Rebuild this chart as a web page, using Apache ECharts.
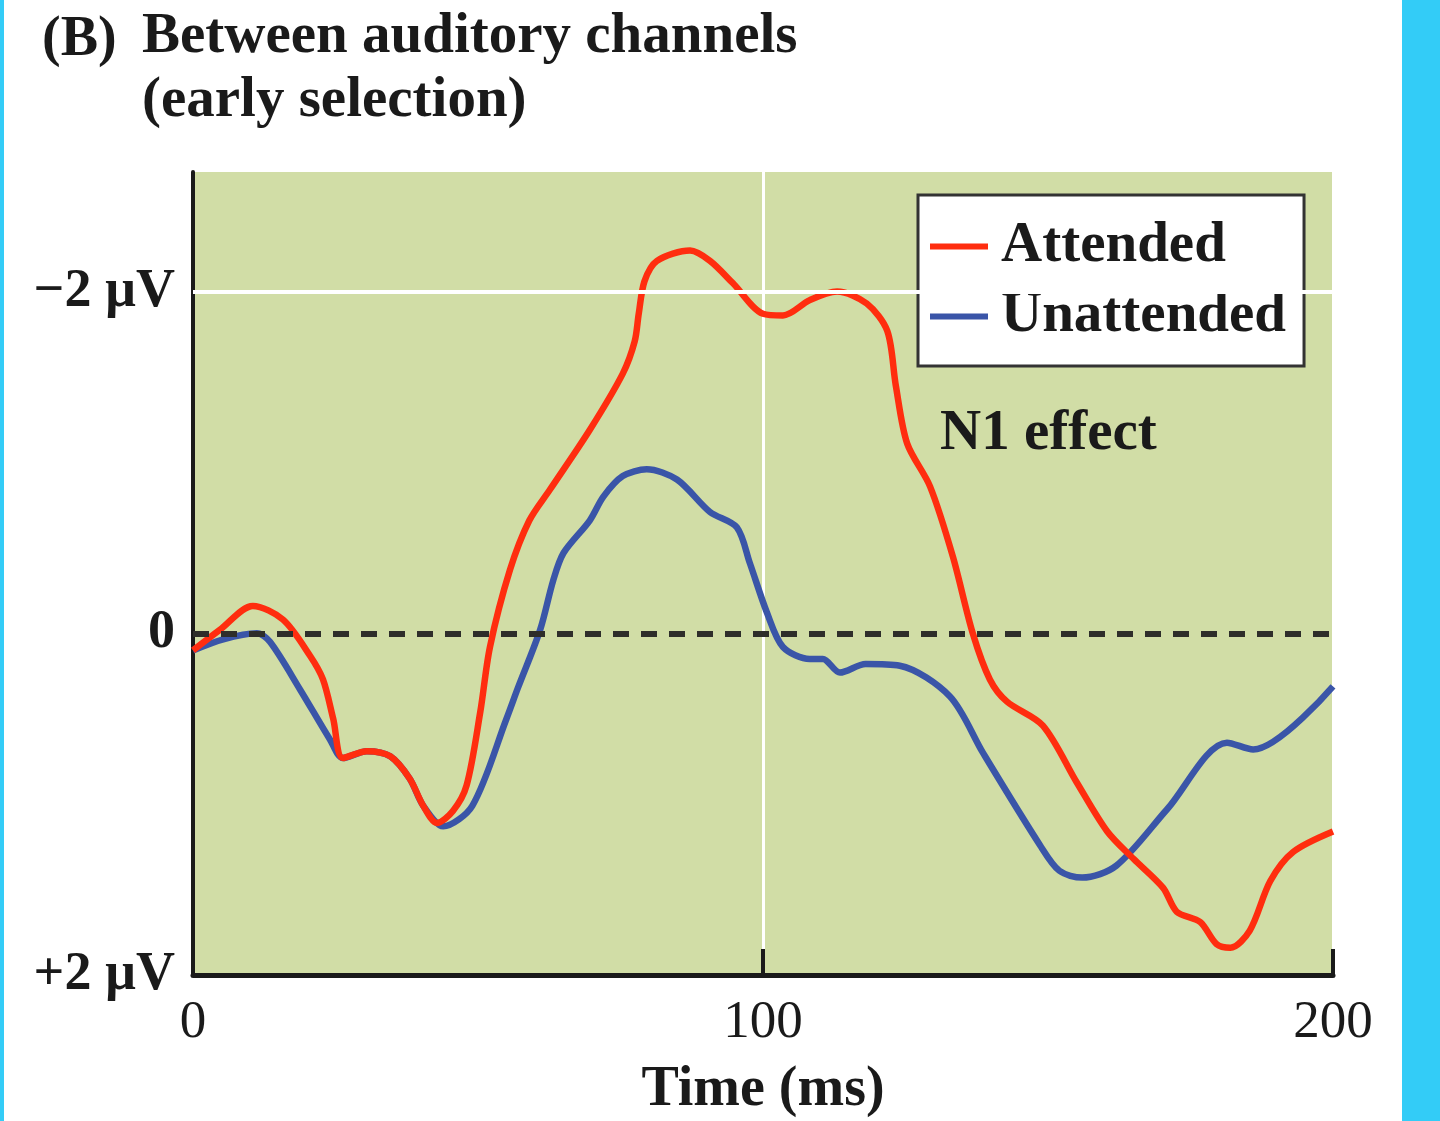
<!DOCTYPE html>
<html>
<head>
<meta charset="utf-8">
<script src="https://cdn.jsdelivr.net/npm/echarts@6/dist/echarts.min.js"></script>
<style>
  html, body { margin: 0; padding: 0; background: #fff; }
  #chart { width: 1440px; height: 1121px; }
</style>
</head>
<body>
<div id="chart"></div>
<script>
// ERP waveforms, time in ms, amplitude in µV (negative up)
var attendedT = [0, 4.7, 10.5, 15.8, 20.5, 22.8, 24.6, 26.3, 30.5, 34.6, 38, 40.4, 42.8, 45.6, 48, 50.4, 52.1, 55.6, 59, 62.6, 69.6, 75.4, 77.5, 78.2, 79.2, 81.4, 87.2, 90.7, 94.7, 100, 103.5, 108.2, 113, 118.2, 121.8, 123.3, 125.3, 129.3, 133.3, 136.8, 139.8, 142.8, 149.1, 155, 160.4, 165, 170.2, 172.6, 176.7, 179.6, 182, 185.4, 189, 193, 200];
var attendedV = [0.1, -0.02, -0.16, -0.08, 0.13, 0.27, 0.5, 0.73, 0.69, 0.72, 0.85, 1.01, 1.11, 1.04, 0.89, 0.46, 0.08, -0.37, -0.66, -0.84, -1.19, -1.52, -1.71, -1.87, -2.06, -2.18, -2.24, -2.18, -2.05, -1.87, -1.86, -1.95, -2.0, -1.93, -1.77, -1.45, -1.11, -0.86, -0.45, 0, 0.27, 0.4, 0.54, 0.87, 1.16, 1.32, 1.49, 1.63, 1.69, 1.82, 1.84, 1.74, 1.45, 1.28, 1.16];

var unattendedT = [0, 5.3, 11.2, 13.5, 18.8, 24, 26.3, 30.5, 34.6, 38, 40.4, 43.9, 49, 55, 57, 60.9, 63.2, 65, 69.6, 72, 75.4, 79.6, 84.9, 90.7, 95.4, 97.7, 100.7, 103.5, 108.2, 110.5, 113.5, 118, 124, 132.8, 138.6, 148.6, 152, 156, 162, 170.9, 181.4, 186, 200];
var unattendedV = [0.1, 0.035, 0.0, 0.05, 0.33, 0.62, 0.73, 0.69, 0.72, 0.85, 1.01, 1.13, 1.01, 0.5, 0.32, -0.02, -0.31, -0.47, -0.66, -0.8, -0.92, -0.96, -0.9, -0.71, -0.62, -0.41, -0.12, 0.08, 0.15, 0.15, 0.23, 0.18, 0.19, 0.37, 0.7, 1.24, 1.39, 1.43, 1.36, 1.03, 0.64, 0.68, 0.31];

var yTickLabels = { '-2': '\u22122 \u00b5V', '0': '0', '2': '+2 \u00b5V' };
var xTickValues = [0, 100, 200];

function pairs(ts, vs) {
  var out = [];
  for (var i = 0; i < ts.length; i++) out.push([ts[i], vs[i]]);
  return out;
}

var serif = '"Liberation Serif", "DejaVu Serif", serif';
var myChart = echarts.init(document.getElementById('chart'));

myChart.setOption({
  animation: false,
  backgroundColor: '#ffffff',
  title: [
    { text: '(B)', left: 37, top: 4, textStyle: { fontFamily: serif, fontSize: 56, fontWeight: 'bold', color: '#1a1a1a', lineHeight: 64 } },
    { text: 'Between auditory channels\n(early selection)', left: 137, top: 0,
      textStyle: { fontFamily: serif, fontSize: 57, fontWeight: 'bold', color: '#1a1a1a', lineHeight: 64 } }
  ],
  grid: {
    left: 193, top: 172, right: 107, bottom: 146,
    outerBoundsMode: 'none',
    show: true, backgroundColor: '#d1dda6', borderWidth: 0
  },
  legend: {
    data: ['Attended', 'Unattended'],
    orient: 'vertical',
    left: 918, top: 195,
    padding: [23, 18, 21, 12],
    itemGap: 13,
    itemWidth: 58, itemHeight: 6,
    icon: 'rect',
    backgroundColor: '#ffffff',
    borderColor: '#333333',
    borderWidth: 3,
    borderRadius: 0,
    textStyle: { fontFamily: serif, fontSize: 57, fontWeight: 'bold', color: '#1a1a1a', lineHeight: 54, padding: [0, 0, 0, 8] }
  },
  xAxis: {
    type: 'value', min: 0, max: 200, interval: 100,
    name: 'Time (ms)', nameLocation: 'middle', nameGap: 88,
    nameTextStyle: { fontFamily: serif, fontSize: 56, fontWeight: 'bold', color: '#1a1a1a' },
    axisLine: { show: true, onZero: false, lineStyle: { color: '#1a1a1a', width: 5 } },
    axisTick: { show: true, inside: true, length: 26, customValues: [100, 200], lineStyle: { color: '#1a1a1a', width: 4 } },
    axisLabel: { customValues: xTickValues, margin: 22, fontFamily: serif, fontSize: 53, color: '#1a1a1a' },
    splitLine: { show: true, lineStyle: { color: '#ffffff', width: 3 } }
  },
  yAxis: {
    type: 'value', inverse: true, min: -2.7, max: 2,
    axisLine: { show: true, onZero: false, lineStyle: { color: '#1a1a1a', width: 4 } },
    axisTick: { show: true, inside: true, length: 28, customValues: [-2], lineStyle: { color: '#1a1a1a', width: 4 } },
    axisLabel: {
      customValues: [-2, 0, 2], margin: 18,
      fontFamily: serif, fontSize: 54, fontWeight: 'bold', color: '#1a1a1a',
      formatter: function (v) { return yTickLabels[String(v)]; }
    },
    splitLine: { show: false }
  },
  graphic: [
    { type: 'rect', left: 1402, top: 0, shape: { width: 38, height: 1121 }, style: { fill: '#33ccf7' }, z: 100 },
    { type: 'rect', left: 0, top: 0, shape: { width: 4, height: 1121 }, style: { fill: '#33ccf7' }, z: 100 },
    { type: 'text', left: 940, top: 406, z: 50,
      style: { text: 'N1 effect', fontFamily: serif, fontSize: 57, fontWeight: 'bold', fill: '#1a1a1a' } }
  ],
  series: [
    {
      name: 'ref', type: 'line', data: [], z: 1, silent: true,
      markLine: {
        silent: true, symbol: 'none', label: { show: false },
        data: [
          { yAxis: -2, lineStyle: { color: '#ffffff', width: 4, type: 'solid' } },
          { yAxis: 0, lineStyle: { color: '#2e2e2a', width: 6, type: [16, 12] } }
        ]
      }
    },
    {
      name: 'Unattended', type: 'line', data: pairs(unattendedT, unattendedV),
      smooth: 0.3, showSymbol: false, z: 3,
      itemStyle: { color: '#3a55a8' },
      lineStyle: { color: '#3a55a8', width: 6.5 }
    },
    {
      name: 'Attended', type: 'line', data: pairs(attendedT, attendedV),
      smooth: 0.3, showSymbol: false, z: 4,
      itemStyle: { color: '#ff2d0f' },
      lineStyle: { color: '#ff2d0f', width: 6.5 }
    }
  ]
});
</script>
</body>
</html>
